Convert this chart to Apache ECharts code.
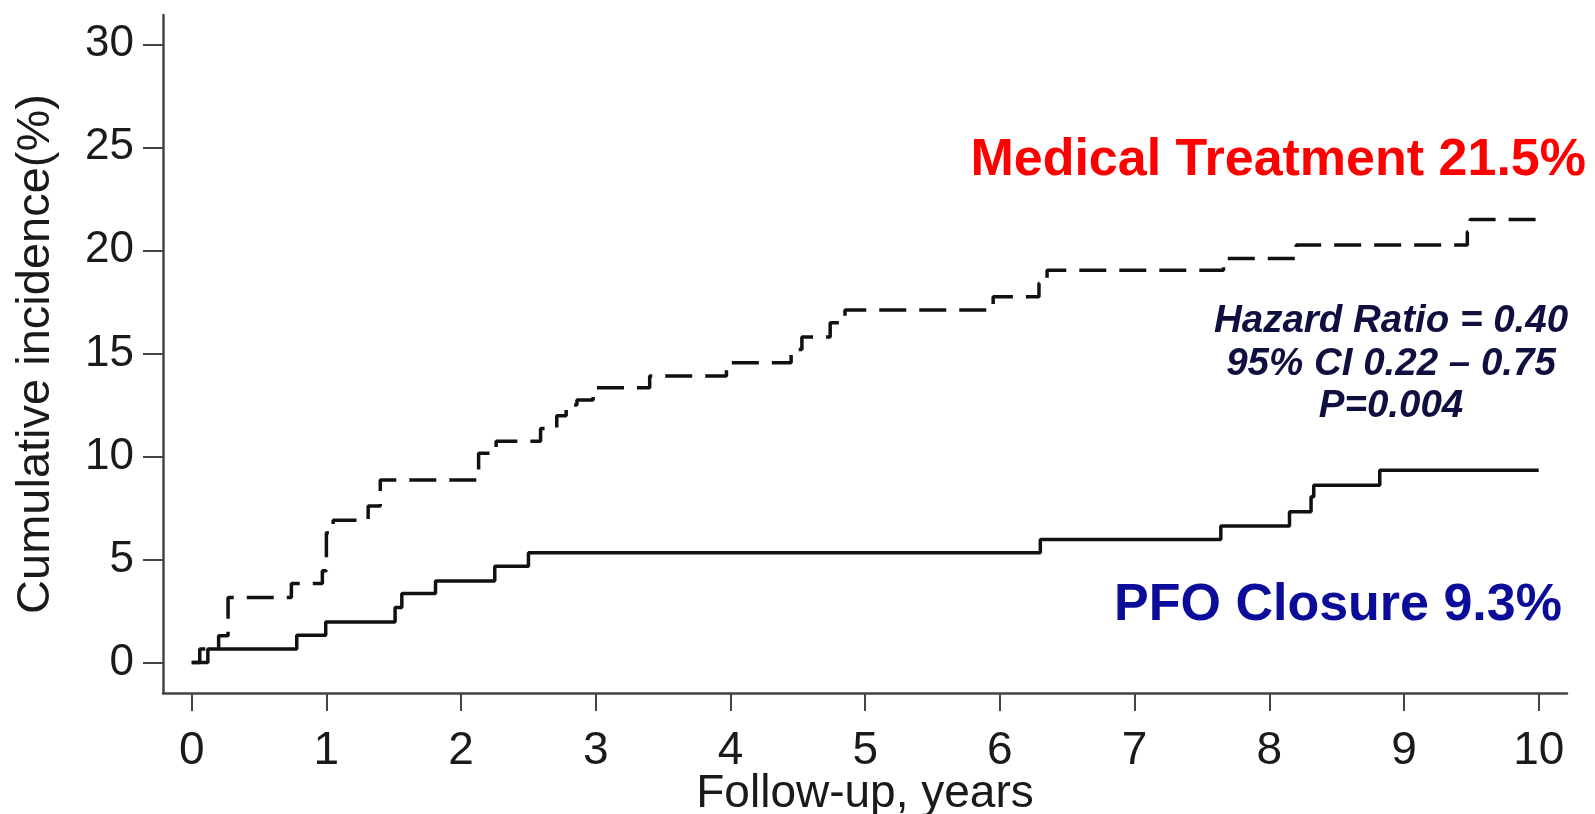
<!DOCTYPE html>
<html>
<head>
<meta charset="utf-8">
<script src="https://cdn.jsdelivr.net/npm/echarts@6/dist/echarts.min.js"></script>
<style>
html,body{margin:0;padding:0;background:#fff;}
#chart{width:1595px;height:814px;}
</style>
</head>
<body>
<div id="chart"></div>
<script>
// ---- data ----
const pfoTimes  = [0, 0.12, 0.78, 0.995, 1.51, 1.56, 1.81, 2.25, 2.5, 6.3, 7.64, 8.15, 8.31, 8.33, 8.82, 10];
const pfoValues = [0, 0.65, 1.32, 1.97, 2.67, 3.35, 3.96, 4.67, 5.32, 5.97, 6.62, 7.31, 8.04, 8.6, 9.33, 9.33];

const medTimes  = [0, 0.06, 0.2, 0.27, 0.74, 0.97, 1.0, 1.05, 1.31, 1.4, 2.13, 2.26, 2.59, 2.71, 2.78, 2.86, 2.98, 3.4, 3.97, 4.45, 4.53, 4.74, 4.85, 5.95, 6.29, 6.35, 7.66, 8.2, 9.47, 9.49, 10];
const medValues = [0, 0.65, 1.3, 3.15, 3.83, 4.45, 6.3, 6.9, 7.6, 8.85, 10.15, 10.74, 11.36, 11.97, 12.5, 12.74, 13.33, 13.9, 14.55, 15.19, 15.8, 16.49, 17.1, 17.75, 18.4, 19.04, 19.6, 20.26, 20.9, 21.5, 21.5];

const xTicks = [0, 1, 2, 3, 4, 5, 6, 7, 8, 9, 10];
const yTicks = [0, 5, 10, 15, 20, 25, 30];

const xName = 'Follow-up, years';
const yName = 'Cumulative incidence(%)';
const medLabel = 'Medical Treatment 21.5%';
const pfoLabel = 'PFO Closure 9.3%';
const statLines = ['Hazard Ratio = 0.40', '95% CI 0.22 \u2013 0.75', 'P=0.004'];

const FONT = '"Liberation Sans", Arial, Helvetica, sans-serif';
const pair = (ts, vs) => ts.map((t, i) => [t, vs[i]]);

const chart = echarts.init(document.getElementById('chart'), null, {renderer: 'canvas'});
const axisColor = '#444444';
chart.setOption({
  animation: false,
  backgroundColor: '#ffffff',
  grid: {left: 163, right: 28, top: 15, bottom: 121, containLabel: false, outerBoundsMode: 'none'},
  xAxis: {
    type: 'value',
    min: -0.213, max: 10.21,
    name: xName, nameLocation: 'middle', nameGap: 78, nameMoveOverlap: false,
    nameTextStyle: {fontFamily: FONT, fontSize: 46, color: '#1a1a1a'},
    axisLine: {show: true, onZero: false, lineStyle: {color: axisColor, width: 2.5}},
    axisTick: {show: true, length: 18, customValues: xTicks, lineStyle: {color: axisColor, width: 2}},
    axisLabel: {show: true, customValues: xTicks, margin: 35, fontFamily: FONT, fontSize: 46, color: '#1a1a1a'},
    splitLine: {show: false}
  },
  yAxis: {
    type: 'value',
    min: -1.48, max: 31.42,
    name: yName, nameLocation: 'middle', nameGap: 103, nameMoveOverlap: false,
    nameTextStyle: {fontFamily: FONT, fontSize: 47, color: '#1a1a1a'},
    axisLine: {show: true, onZero: false, lineStyle: {color: axisColor, width: 2.5}},
    axisTick: {show: true, length: 20, customValues: yTicks, lineStyle: {color: axisColor, width: 2}},
    axisLabel: {show: true, customValues: yTicks, margin: 29, fontFamily: FONT, fontSize: 44, color: '#1a1a1a'},
    splitLine: {show: false}
  },
  series: [
    {
      name: 'Medical Treatment', type: 'line', step: 'end', showSymbol: false, silent: true,
      data: pair(medTimes, medValues),
      lineStyle: {color: '#111', width: 3.5, type: [27, 13], cap: 'butt'}
    },
    {
      name: 'PFO Closure', type: 'line', step: 'end', showSymbol: false, silent: true,
      data: pair(pfoTimes, pfoValues),
      lineStyle: {color: '#111', width: 3.5, type: 'solid'}
    }
  ],
  graphic: [
    {type: 'text', right: 9, top: 135, style: {text: medLabel, fill: '#ff0000', font: 'bold 52px ' + FONT}},
    {type: 'text', x: 1338, y: 606, style: {text: pfoLabel, fill: '#0c0c9a', font: 'bold 52px ' + FONT, align: 'center', verticalAlign: 'middle'}},
    {type: 'text', x: 1391, y: 321, style: {text: statLines[0], fill: '#101040', font: 'italic bold 38.5px ' + FONT, align: 'center', verticalAlign: 'middle'}},
    {type: 'text', x: 1391, y: 364, style: {text: statLines[1], fill: '#101040', font: 'italic bold 38.5px ' + FONT, align: 'center', verticalAlign: 'middle'}},
    {type: 'text', x: 1391, y: 406, style: {text: statLines[2], fill: '#101040', font: 'italic bold 38.5px ' + FONT, align: 'center', verticalAlign: 'middle'}}
  ]
});
</script>
</body>
</html>
